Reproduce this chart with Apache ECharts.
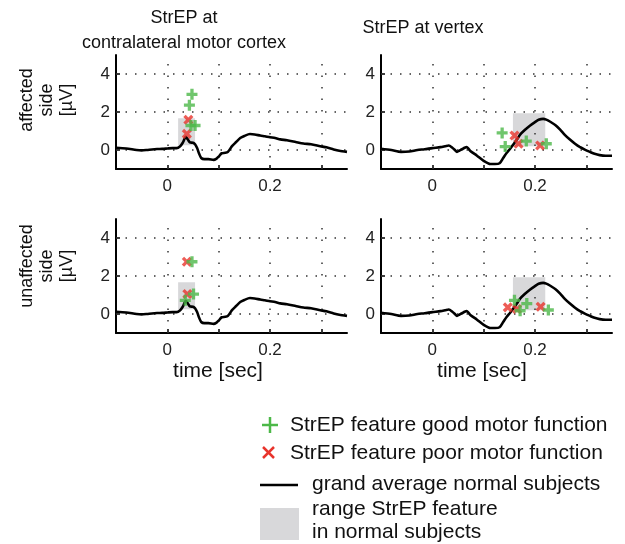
<!DOCTYPE html>
<html>
<head>
<meta charset="utf-8">
<script src="https://cdn.jsdelivr.net/npm/echarts@6/dist/echarts.min.js"></script>
<style>
html,body{margin:0;padding:0;background:#fff;}
#chart{width:625px;height:544px;}
</style>
</head>
<body>
<div id="chart"></div>
<script>
// ---------- data ----------
const panelTitles = ['StrEP at\ncontralateral motor cortex', 'StrEP at vertex'];
const rowLabels = ['affected\nside\n[µV]', 'unaffected\nside\n[µV]'];
const xAxisTitle = 'time [sec]';
const xTickValues = [0, 0.1, 0.2, 0.3];
const xLabelValues = [0, 0.2];
const yTickValues = [0, 2, 4];
const xRange = [-0.1, 0.35];
const yRange = [-1, 5];

// grand average normal subjects, motor cortex
const avgMotor = [[-0.1,0.12],[-0.08,0.08],[-0.06,0.0],[-0.05,-0.02],[-0.04,0.0],[-0.03,0.03],[-0.02,0.05],[-0.01,0.06],[0,0.08],[0.01,0.1],[0.018,0.1],[0.025,0.2],[0.03,0.38],[0.036,0.69],[0.04,0.55],[0.044,0.4],[0.05,0.38],[0.054,0.3],[0.058,0.1],[0.062,-0.2],[0.066,-0.42],[0.072,-0.48],[0.08,-0.48],[0.09,-0.52],[0.096,-0.45],[0.1,-0.35],[0.106,-0.17],[0.113,-0.15],[0.118,-0.1],[0.126,0.2],[0.134,0.42],[0.142,0.63],[0.15,0.74],[0.161,0.84],[0.17,0.82],[0.181,0.76],[0.19,0.72],[0.2,0.67],[0.21,0.63],[0.22,0.56],[0.233,0.51],[0.25,0.42],[0.265,0.34],[0.28,0.3],[0.298,0.2],[0.31,0.14],[0.324,0.03],[0.335,-0.04],[0.35,-0.1]];
// grand average normal subjects, vertex
const avgVertex = [[-0.1,0.07],[-0.08,0.0],[-0.061,-0.1],[-0.045,-0.08],[-0.029,0.0],[-0.015,0.04],[0,0.1],[0.016,0.15],[0.025,0.2],[0.032,0.24],[0.039,0.12],[0.044,0.0],[0.048,-0.1],[0.053,-0.03],[0.058,0.04],[0.063,0.12],[0.067,0.16],[0.07,0.08],[0.074,-0.05],[0.087,-0.3],[0.1,-0.57],[0.113,-0.74],[0.122,-0.74],[0.131,-0.7],[0.138,-0.42],[0.145,-0.14],[0.152,0.08],[0.158,0.3],[0.165,0.56],[0.171,0.81],[0.18,1.05],[0.19,1.28],[0.2,1.47],[0.207,1.59],[0.216,1.64],[0.222,1.6],[0.229,1.5],[0.24,1.3],[0.249,1.07],[0.258,0.8],[0.268,0.55],[0.278,0.33],[0.287,0.16],[0.297,0.02],[0.307,-0.1],[0.316,-0.2],[0.326,-0.27],[0.338,-0.3],[0.35,-0.3]];

// range StrEP feature in normal subjects: [xStart, yStart, xEnd, yEnd]
const rangeMotor = [0.021, 0.25, 0.054, 1.67];
const rangeVertex = [0.157, 0.2, 0.22, 1.93];

// StrEP features of patients
const goodAffMotor = [[0.048,2.93],[0.043,2.36],[0.046,1.29],[0.054,1.29]];
const poorAffMotor = [[0.041,1.59],[0.038,0.85]];
const goodAffVertex = [[0.136,0.9],[0.142,0.18],[0.183,0.47],[0.222,0.33]];
const poorAffVertex = [[0.16,0.76],[0.168,0.33],[0.21,0.24]];
const goodUnaffMotor = [[0.048,2.75],[0.051,1.05],[0.035,0.72]];
const poorUnaffMotor = [[0.038,2.75],[0.039,1.05]];
const goodUnaffVertex = [[0.16,0.72],[0.171,0.17],[0.184,0.55],[0.226,0.21]];
const poorUnaffVertex = [[0.147,0.35],[0.165,0.26],[0.211,0.38]];

const legendLabels = ['StrEP feature good motor function', 'StrEP feature poor motor function', 'grand average normal subjects', 'range StrEP feature\nin normal subjects'];

// ---------- styling ----------
const FONT = '"Liberation Sans", Arial, sans-serif';
const GREEN = '#4cb848';
const RED = '#e8342c';
const GRAY = '#d8d8da';
const PLUS = 'path://M3.5,0H6.5V3.5H10V6.5H6.5V10H3.5V6.5H0V3.5H3.5Z';

const panels = [
  {grid:{left:116, top:55, width:231, height:114}, avg:avgMotor, range:rangeMotor, good:goodAffMotor, poor:poorAffMotor},
  {grid:{left:381, top:55, width:231, height:114}, avg:avgVertex, range:rangeVertex, good:goodAffVertex, poor:poorAffVertex},
  {grid:{left:116, top:219, width:231, height:114}, avg:avgMotor, range:rangeMotor, good:goodUnaffMotor, poor:poorUnaffMotor},
  {grid:{left:381, top:219, width:231, height:114}, avg:avgVertex, range:rangeVertex, good:goodUnaffVertex, poor:poorUnaffVertex}
];

const grids = [], xAxes = [], yAxes = [], series = [];
panels.forEach((p, i) => {
  grids.push(Object.assign({containLabel:false}, p.grid));
  xAxes.push({
    type:'value', gridIndex:i, min:xRange[0], max:xRange[1],
    axisLine:{show:true, onZero:false, lineStyle:{color:'#000', width:2}},
    axisTick:{show:true, inside:true, length:4, customValues:xTickValues, lineStyle:{color:'#000', width:1.5}},
    axisLabel:{show:true, customValues:xLabelValues, margin:9, color:'#222', fontSize:17, fontFamily:FONT,
      formatter:v => String(Math.round(v*10)/10)},
    splitLine:{show:false}
  });
  yAxes.push({
    type:'value', gridIndex:i, min:yRange[0], max:yRange[1],
    axisLine:{show:true, onZero:false, lineStyle:{color:'#000', width:2}},
    axisTick:{show:true, inside:true, length:4, customValues:yTickValues, lineStyle:{color:'#000', width:1.5}},
    axisLabel:{show:true, customValues:yTickValues, margin:6, color:'#222', fontSize:17, fontFamily:FONT},
    splitLine:{show:false}
  });
  const gridMarks = [];
  xTickValues.forEach(v => gridMarks.push({xAxis:v, lineStyle:{type:[1.5,10]}}));
  yTickValues.forEach(v => gridMarks.push({yAxis:v, lineStyle:{type:[1.5,8]}}));
  series.push({
    type:'line', xAxisIndex:i, yAxisIndex:i, data:p.avg, showSymbol:false, smooth:0.25,
    lineStyle:{color:'#000', width:2.6}, z:3,
    markLine:{silent:true, symbol:['none','none'], label:{show:false}, z:1,
      lineStyle:{color:'#333', width:1.5}, data:gridMarks, animation:false},
    markArea:{silent:true, itemStyle:{color:GRAY, opacity:1}, z:0,
      data:[[{coord:[p.range[0], p.range[1]]},{coord:[p.range[2], p.range[3]]}]]}
  });
  series.push({
    type:'scatter', xAxisIndex:i, yAxisIndex:i, data:p.poor, symbol:PLUS, symbolSize:11, symbolRotate:45,
    itemStyle:{color:RED}, z:4
  });
  series.push({
    type:'scatter', xAxisIndex:i, yAxisIndex:i, data:p.good, symbol:PLUS, symbolSize:11,
    itemStyle:{color:GREEN}, z:5
  });
});

const txt = (x, y, text, opts) => Object.assign({
  type:'text', x:x, y:y,
  style:Object.assign({text:text, fill:'#111', font:'18px ' + FONT, textAlign:'center', textVerticalAlign:'middle'}, opts && opts.style)
}, opts && opts.el);

const graphic = [
  txt(184, 31, panelTitles[0], {style:{lineHeight:25}}),
  txt(423, 28, panelTitles[1]),
  txt(47, 100, rowLabels[0], {style:{lineHeight:20}, el:{rotation:Math.PI/2}}),
  txt(47, 266, rowLabels[1], {style:{lineHeight:20}, el:{rotation:Math.PI/2}}),
  txt(218, 371, xAxisTitle, {style:{font:'21px ' + FONT}}),
  txt(482, 371, xAxisTitle, {style:{font:'21px ' + FONT}}),
  // legend
  {type:'line', shape:{x1:270, y1:417, x2:270, y2:433}, style:{stroke:GREEN, lineWidth:2.5}},
  {type:'line', shape:{x1:262, y1:425, x2:278, y2:425}, style:{stroke:GREEN, lineWidth:2.5}},
  {type:'line', shape:{x1:263, y1:447, x2:274, y2:458}, style:{stroke:RED, lineWidth:2.5}},
  {type:'line', shape:{x1:263, y1:458, x2:274, y2:447}, style:{stroke:RED, lineWidth:2.5}},
  {type:'line', shape:{x1:260, y1:485, x2:298, y2:485}, style:{stroke:'#000', lineWidth:2.5}},
  {type:'rect', shape:{x:260, y:508, width:39, height:32}, style:{fill:GRAY}},
  txt(290, 425, legendLabels[0], {style:{font:'21px ' + FONT, textAlign:'left'}}),
  txt(290, 453, legendLabels[1], {style:{font:'21px ' + FONT, textAlign:'left'}}),
  txt(312, 484, legendLabels[2], {style:{font:'21px ' + FONT, textAlign:'left'}}),
  txt(312, 521, legendLabels[3], {style:{font:'21px ' + FONT, textAlign:'left', lineHeight:23}})
];

const chart = echarts.init(document.getElementById('chart'), null, {renderer:'canvas'});
chart.setOption({
  animation:false,
  backgroundColor:'#fff',
  grid:grids, xAxis:xAxes, yAxis:yAxes, series:series, graphic:graphic
});
</script>
</body>
</html>
